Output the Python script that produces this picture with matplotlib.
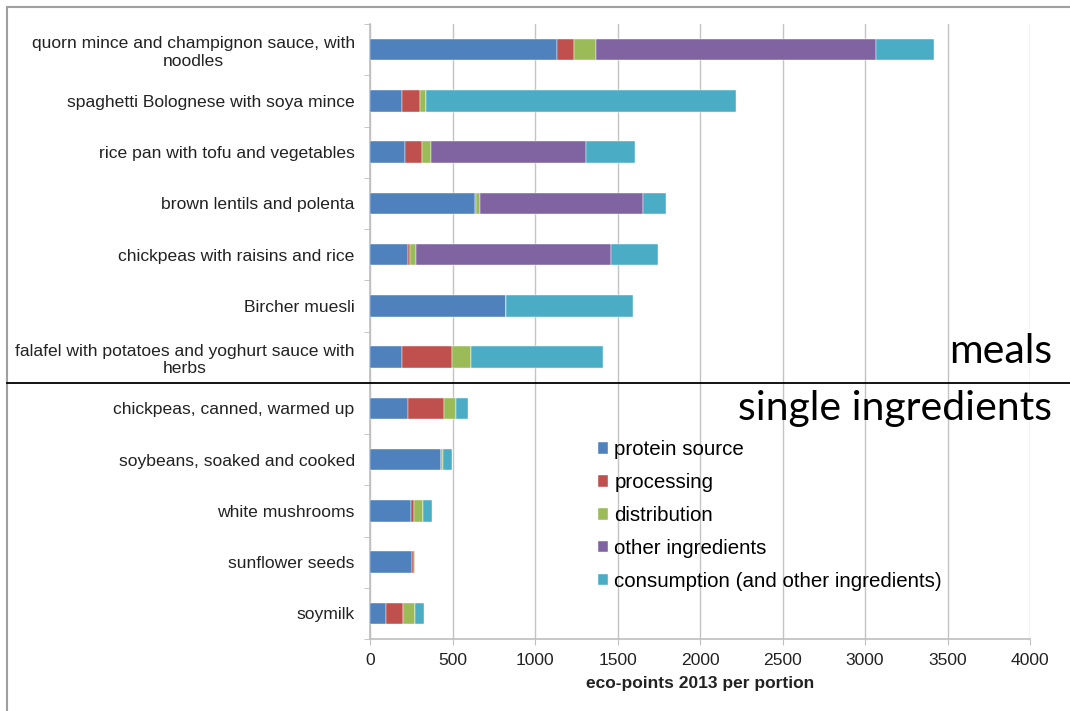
import numpy as np
from matplotlib import pyplot as plt
from matplotlib.patches import Rectangle
from matplotlib.lines import Line2D
from matplotlib.transforms import blended_transform_factory

# dishes and ingredients, top to bottom
labels = ["quorn mince and champignon sauce, with\nnoodles",
          "spaghetti Bolognese with soya mince",
          "rice pan with tofu and vegetables",
          "brown lentils and polenta",
          "chickpeas with raisins and rice",
          "Bircher muesli",
          "falafel with potatoes and yoghurt sauce with\nherbs",
          "chickpeas, canned, warmed up",
          "soybeans, soaked and cooked",
          "white mushrooms",
          "sunflower seeds",
          "soymilk"]

protein     = [1134, 191, 215, 634, 231, 823, 191, 229, 429, 250, 256, 96]
processing  = [103, 111, 100, 11, 14, 0, 308, 221, 0, 16, 8, 103]
distribution = [135, 35, 52, 21, 32, 0, 113, 73, 13, 55, 8, 73]
other_ingr  = [1697, 0, 945, 987, 1181, 0, 0, 0, 0, 0, 0, 0]
consumption = [351, 1881, 292, 140, 287, 768, 800, 73, 54, 54, 0, 54]

series = [("protein source", protein, "#4F81BD"),
          ("processing", processing, "#C0504D"),
          ("distribution", distribution, "#9BBB59"),
          ("other ingredients", other_ingr, "#8064A2"),
          ("consumption (and other ingredients)", consumption, "#4BACC6")]

plt.rcParams['font.family'] = ['Liberation Sans', 'DejaVu Sans']

fig = plt.figure(figsize=(10.7, 7.11), dpi=100)
ax = fig.add_axes([370/1070, 1 - 639/711, 660/1070, 615/711])

y = np.arange(len(labels))
left = np.zeros(len(labels))
for name, vals, col in series:
    vals = np.array(vals, dtype=float)
    ax.barh(y, vals, left=left, height=0.42, color=col, label=name,
            edgecolor='white', linewidth=0.3, zorder=3)
    left += vals

ax.set_xlim(0, 4000)
ax.set_ylim(len(labels) - 0.5, -0.5)
ax.set_xticks(np.arange(0, 4001, 500))
ax.set_yticks(y)
ax.set_yticklabels(labels, fontsize=12.6, color='#222222')
for t in ax.get_yticklabels():
    t.set_multialignment('center')
ax.set_yticks(np.arange(-0.5, len(labels)), minor=True)
ax.tick_params(axis='y', which='major', length=0, pad=11)
ax.tick_params(axis='y', which='minor', length=4, color='#BEBEBE')
ax.tick_params(axis='x', length=4, color='#BEBEBE', labelsize=12.6,
               labelcolor='#222222', pad=6)
ax.grid(axis='x', color='#C4C4C4', linewidth=1, zorder=0)
for s in ['top', 'right']:
    ax.spines[s].set_visible(False)
for s in ['left', 'bottom']:
    ax.spines[s].set_color('#BEBEBE')
    ax.spines[s].set_linewidth(1.2)
ax.set_xlabel("eco-points 2013 per portion", fontsize=12.5,
              fontweight='bold', color='#222222', labelpad=6)

ax.legend(loc='upper left', bbox_to_anchor=(598/1070, 1 - 440/711),
          bbox_transform=fig.transFigure, frameon=False, fontsize=14.8,
          handlelength=0.5, handleheight=0.5, handletextpad=0.3,
          labelspacing=0.68, borderaxespad=0, borderpad=0)

# separator between meals and single ingredients
tr = blended_transform_factory(fig.transFigure, ax.transData)
fig.add_artist(Line2D([7/1070, 1.0], [6.5, 6.5], transform=tr,
                      color='black', linewidth=1.3))

fig.text(1052/1070, 1 - 363/711, "meals", ha='right', va='baseline',
         fontsize=29.5, family='Lato', color='black')
fig.text(1052/1070, 1 - 420/711, "single ingredients", ha='right',
         va='baseline', fontsize=29.5, family='Lato', color='black')

# outer frame
fig.add_artist(Rectangle((7/1070, -0.1), 1.1, 1 - 7/711 + 0.1,
                         transform=fig.transFigure, fill=False,
                         edgecolor='#A0A0A0', linewidth=1.5))

fig.savefig("out.png", dpi=100)
